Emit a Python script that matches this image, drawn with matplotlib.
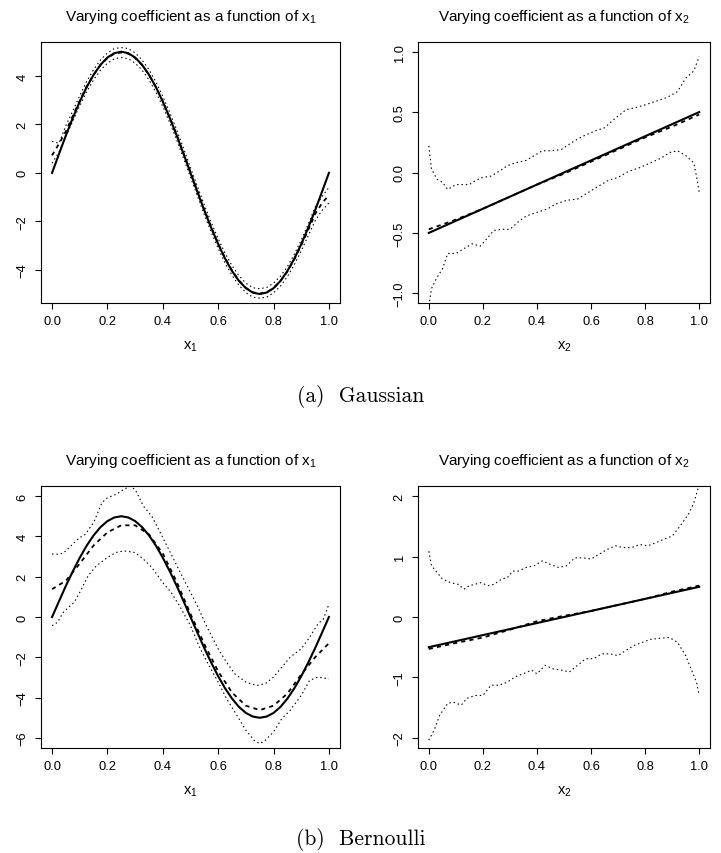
import numpy as np
import matplotlib
matplotlib.use('Agg')
import matplotlib.pyplot as plt

plt.rcParams['font.family'] = ['Liberation Sans', 'DejaVu Sans']

# ---- (a) Gaussian, x1 ----
ga1_x = np.linspace(0, 1, 41)
ga1_true = [0, 0.78, 1.55, 2.27, 2.94, 3.54, 4.05, 4.46, 4.76, 4.94, 5.00, 4.94, 4.76, 4.46, 4.05, 3.54,
            2.94, 2.27, 1.55, 0.78, 0, -0.78, -1.55, -2.27, -2.94, -3.54, -4.05, -4.46, -4.76, -4.94, -5.00,
            -4.94, -4.76, -4.46, -4.05, -3.54, -2.94, -2.27, -1.55, -0.78, 0]
ga1_est = [0.72, 1.20, 1.72, 2.35, 2.98, 3.56, 4.05, 4.45, 4.74, 4.92, 4.97, 4.92, 4.74, 4.45, 4.05, 3.54,
           2.95, 2.28, 1.57, 0.80, 0.02, -0.76, -1.53, -2.25, -2.92, -3.52, -4.03, -4.44, -4.74, -4.93, -4.98,
           -4.93, -4.75, -4.46, -4.07, -3.57, -2.99, -2.36, -1.70, -1.25, -0.92]
ga1_up = [1.30, 1.22, 1.95, 2.56, 3.19, 3.77, 4.26, 4.66, 4.95, 5.13, 5.17, 5.13, 4.95, 4.66, 4.26, 3.75,
          3.16, 2.49, 1.78, 1.01, 0.22, -0.56, -1.33, -2.05, -2.72, -3.32, -3.83, -4.24, -4.55, -4.74, -4.78,
          -4.73, -4.55, -4.26, -3.87, -3.36, -2.77, -2.12, -1.42, -0.98, -0.60]
ga1_lo = [0.40, 0.85, 1.50, 2.14, 2.77, 3.35, 3.84, 4.24, 4.53, 4.71, 4.76, 4.71, 4.53, 4.24, 3.84, 3.33,
          2.74, 2.07, 1.36, 0.59, -0.18, -0.96, -1.73, -2.45, -3.12, -3.72, -4.23, -4.64, -4.94, -5.13, -5.17,
          -5.13, -4.95, -4.67, -4.28, -3.79, -3.22, -2.60, -1.98, -1.55, -1.24]

# ---- (a) Gaussian, x2 ----
ga2_x_true = [0, 1]
ga2_true = [-0.5, 0.5]
ga2_x_est = [0, 0.1, 0.2, 0.3, 0.4, 0.5, 0.6, 0.7, 0.8, 0.9, 1.0]
ga2_est = [-0.47, -0.39, -0.30, -0.20, -0.10, -0.01, 0.09, 0.19, 0.29, 0.38, 0.48]
ga2_x_up = [0, 0.01, 0.03, 0.05, 0.07, 0.10, 0.12, 0.15, 0.17, 0.20, 0.23, 0.26, 0.29, 0.32, 0.36, 0.39,
            0.42, 0.45, 0.49, 0.53, 0.57, 0.61, 0.65, 0.69, 0.73, 0.77, 0.80, 0.84, 0.88, 0.92, 0.95, 0.98, 1.0]
ga2_up = [0.22, 0.03, -0.055, -0.08, -0.14, -0.10, -0.10, -0.10, -0.07, -0.04, -0.03, 0.01, 0.055, 0.08,
          0.10, 0.14, 0.18, 0.18, 0.19, 0.25, 0.30, 0.34, 0.37, 0.45, 0.52, 0.54, 0.56, 0.59, 0.62, 0.67,
          0.78, 0.84, 0.96]
ga2_x_lo = [0, 0.01, 0.03, 0.05, 0.07, 0.10, 0.13, 0.16, 0.19, 0.21, 0.24, 0.27, 0.30, 0.33, 0.36, 0.40,
            0.44, 0.47, 0.51, 0.55, 0.59, 0.63, 0.66, 0.70, 0.74, 0.78, 0.82, 0.86, 0.89, 0.92, 0.95, 0.98,
            0.99, 1.0]
ga2_lo = [-1.10, -0.96, -0.87, -0.80, -0.67, -0.67, -0.63, -0.59, -0.61, -0.56, -0.48, -0.47, -0.47, -0.41,
          -0.36, -0.33, -0.30, -0.26, -0.23, -0.22, -0.165, -0.11, -0.07, -0.04, 0.01, 0.04, 0.08, 0.12,
          0.165, 0.18, 0.14, 0.08, -0.03, -0.165]

# ---- (b) Bernoulli, x1 ----
be1_x = np.linspace(0, 1, 41)
be1_true = ga1_true
be1_x_est = [0, 0.05, 0.10, 0.15, 0.20, 0.25, 0.30, 0.35, 0.40, 0.45, 0.50, 0.55, 0.60, 0.65, 0.70, 0.75,
             0.80, 0.85, 0.90, 0.95, 1.0]
be1_est = [1.38, 1.80, 2.65, 3.55, 4.20, 4.55, 4.55, 4.10, 3.15, 1.75, 0.15, -1.35, -2.70, -3.75, -4.40,
           -4.62, -4.40, -3.80, -2.85, -2.00, -1.30]
be1_x_up = [0, 0.03, 0.05, 0.08, 0.10, 0.12, 0.15, 0.18, 0.20, 0.23, 0.26, 0.28, 0.30, 0.33, 0.36, 0.40,
            0.43, 0.46, 0.50, 0.53, 0.56, 0.60, 0.63, 0.66, 0.70, 0.74, 0.77, 0.80, 0.83, 0.86, 0.90, 0.93,
            0.96, 0.98, 1.0]
be1_up = [3.12, 3.12, 3.28, 3.69, 3.94, 4.10, 4.68, 5.67, 5.92, 6.08, 6.33, 6.49, 6.33, 5.50, 5.01, 3.94,
          3.12, 2.29, 1.22, 0.40, -0.51, -1.58, -2.24, -2.82, -3.23, -3.40, -3.31, -2.98, -2.49, -1.99,
          -1.58, -1.01, -0.35, -0.10, 0.64]
be1_x_lo = [0, 0.02, 0.04, 0.06, 0.08, 0.10, 0.13, 0.16, 0.20, 0.23, 0.26, 0.30, 0.33, 0.36, 0.40, 0.43,
            0.46, 0.50, 0.53, 0.56, 0.60, 0.63, 0.66, 0.70, 0.73, 0.75, 0.77, 0.80, 0.83, 0.86, 0.90, 0.93,
            0.96, 1.0]
be1_lo = [-0.43, -0.26, 0.23, 0.48, 0.73, 1.22, 2.04, 2.54, 2.95, 3.20, 3.28, 3.20, 2.87, 2.46, 1.71, 1.22,
          0.56, -0.43, -1.42, -2.24, -3.23, -4.05, -4.71, -5.62, -6.12, -6.28, -6.12, -5.70, -5.04, -4.63,
          -3.89, -3.15, -2.98, -3.07]

# ---- (b) Bernoulli, x2 ----
be2_x_true = [0, 1]
be2_true = [-0.5, 0.5]
be2_x_est = [0, 0.1, 0.2, 0.3, 0.4, 0.5, 0.6, 0.7, 0.8, 0.9, 1.0]
be2_est = [-0.53, -0.43, -0.34, -0.21, -0.07, 0.02, 0.10, 0.20, 0.30, 0.42, 0.52]
be2_x_up = [0, 0.01, 0.03, 0.05, 0.08, 0.11, 0.13, 0.15, 0.17, 0.19, 0.22, 0.24, 0.27, 0.29, 0.31, 0.33,
            0.36, 0.39, 0.42, 0.45, 0.48, 0.51, 0.54, 0.57, 0.60, 0.63, 0.66, 0.69, 0.72, 0.75, 0.78, 0.81,
            0.84, 0.87, 0.90, 0.93, 0.96, 0.98, 1.0]
be2_up = [1.09, 0.85, 0.74, 0.63, 0.57, 0.54, 0.46, 0.52, 0.54, 0.57, 0.52, 0.54, 0.63, 0.65, 0.76, 0.76,
          0.82, 0.85, 0.93, 0.87, 0.82, 0.85, 0.98, 0.98, 0.96, 1.04, 1.12, 1.18, 1.15, 1.15, 1.20, 1.18,
          1.23, 1.29, 1.34, 1.51, 1.70, 1.89, 2.19]
be2_x_lo = [0, 0.02, 0.04, 0.07, 0.09, 0.12, 0.14, 0.17, 0.20, 0.23, 0.26, 0.29, 0.32, 0.35, 0.38, 0.40,
            0.43, 0.46, 0.49, 0.52, 0.55, 0.58, 0.61, 0.64, 0.67, 0.70, 0.73, 0.76, 0.79, 0.82, 0.86, 0.89,
            0.92, 0.95, 0.97, 0.99, 1.0]
be2_lo = [-2.04, -1.87, -1.63, -1.43, -1.41, -1.46, -1.35, -1.30, -1.30, -1.13, -1.13, -1.08, -0.99, -0.94,
          -0.88, -0.94, -0.80, -0.86, -0.88, -0.91, -0.80, -0.69, -0.69, -0.61, -0.61, -0.64, -0.55, -0.47,
          -0.42, -0.37, -0.35, -0.34, -0.42, -0.64, -0.86, -1.08, -1.30]

W, H = 721, 854
fig = plt.figure(figsize=(W / 100, H / 100), dpi=100)


def panel(box, ylim, yticks, xname):
    l, t, r, b = box
    ax = fig.add_axes([l / W, 1 - b / H, (r - l) / W, (b - t) / H])
    ax.set_xlim(-0.04, 1.04)
    ax.set_ylim(*ylim)
    ax.set_xticks([0, 0.2, 0.4, 0.6, 0.8, 1.0])
    ax.set_yticks(yticks)
    ax.tick_params(direction='out', length=4.5, width=0.8, labelsize=9.3, pad=4.5)
    ax.tick_params(axis='y', labelrotation=90)
    for lbl in ax.get_yticklabels():
        lbl.set_va('center')
    for s in ax.spines.values():
        s.set_linewidth(0.8)
    ax.set_title('Varying coefficient as a function of $\\mathregular{%s}$' % xname, fontsize=11, pad=16)
    ax.set_xlabel('$\\mathregular{%s}$' % xname, fontsize=10.5, labelpad=8)
    return ax


def curves(ax, xt, yt, xe, ye, xu, yu, xl, yl):
    ax.plot(xt, yt, color='black', lw=1.5)
    ax.plot(xe, ye, color='black', lw=1.3, dashes=(2.3, 2.3))
    ax.plot(xu, yu, color='black', lw=0.8, dashes=(1.3, 2.6))
    ax.plot(xl, yl, color='black', lw=0.8, dashes=(1.3, 2.6))


ax = panel((41, 43, 340, 304), (-5.37, 5.40), [-4, -2, 0, 2, 4], 'x_1')
curves(ax, ga1_x, ga1_true, ga1_x, ga1_est, ga1_x, ga1_up, ga1_x, ga1_lo)

ax = panel((418, 43, 710, 304), (-1.08, 1.08), [-1.0, -0.5, 0.0, 0.5, 1.0], 'x_2')
curves(ax, ga2_x_true, ga2_true, ga2_x_est, ga2_est, ga2_x_up, ga2_up, ga2_x_lo, ga2_lo)

ax = panel((41, 487, 340, 749), (-6.5, 6.5), [-6, -4, -2, 0, 2, 4, 6], 'x_1')
curves(ax, be1_x, be1_true, be1_x_est, be1_est, be1_x_up, be1_up, be1_x_lo, be1_lo)

ax = panel((418, 487, 710, 749), (-2.17, 2.17), [-2, -1, 0, 1, 2], 'x_2')
curves(ax, be2_x_true, be2_true, be2_x_est, be2_est, be2_x_up, be2_up, be2_x_lo, be2_lo)

fig.text(0.5, 1 - 396 / H, '(a)  Gaussian', family='cmr10', fontsize=15.5, ha='center', va='center')
fig.text(0.5, 1 - 840 / H, '(b)  Bernoulli', family='cmr10', fontsize=15.5, ha='center', va='center')

fig.savefig('out.png', dpi=100)
